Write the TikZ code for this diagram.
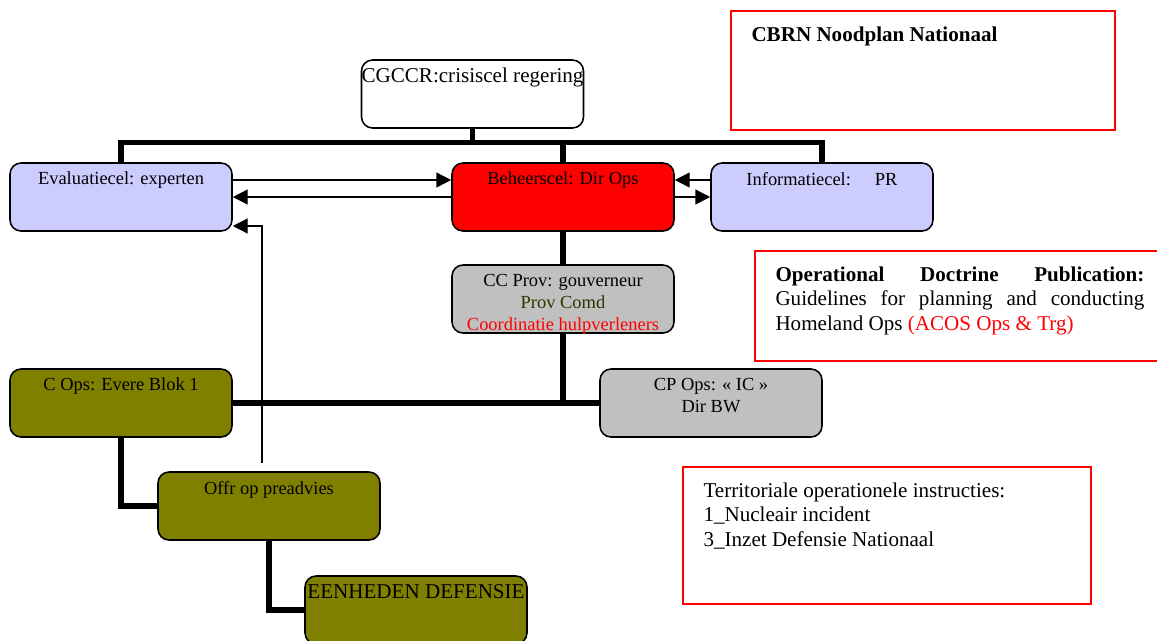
\documentclass[tikz,border=0pt]{standalone}
\usepackage{fontspec}
\setmainfont{Liberation Serif}
\usetikzlibrary{arrows.meta}

\definecolor{lavendel}{HTML}{CCCCFF}
\definecolor{olijf}{HTML}{808000}
\definecolor{grijs}{HTML}{C0C0C0}
\definecolor{donkerolijf}{HTML}{333300}

\tikzset{
  cel/.style={draw, line width=0.9pt, rounded corners=0.22cm,
    minimum width=4.44cm, minimum height=1.36cm, inner sep=0pt},
  kop/.style={label={[below, inner sep=0pt, yshift=-0.19cm, align=center,
    font=\fontsize{10.5}{12.5}\selectfont]north:{#1}}},
  grotekop/.style={label={[below, inner sep=0pt, yshift=-0.17cm, align=center,
    font=\fontsize{12}{14}\selectfont]north:{#1}}},
  nota/.style={draw=red, line width=1pt, inner sep=0pt},
  notatekst/.style={label={[below right, inner sep=0pt, xshift=0.42cm, yshift=-0.33cm,
    font=\fontsize{12}{13.8}\selectfont]north west:{#1}}},
  bus/.style={line width=3pt},
  link/.style={line width=0.8pt, -{Triangle[length=8.5pt,width=8.5pt]}},
}

\begin{document}
\begin{tikzpicture}[x=0.02cm, y=-0.02cm]
\useasboundingbox (0,0) rectangle (1157,640);

% cellen
\node[cel, grotekop={CGCCR:crisiscel regering}] (cgccr) at (472.5,94) {};
\node[cel, fill=lavendel, kop={Evaluatiecel: experten}] (eval) at (121,197) {};
\node[cel, fill=red, kop={Beheerscel: Dir Ops}] (beheer) at (563,197) {};
\node[cel, fill=lavendel, kop={Informatiecel:\hspace{1.3em}PR}] (info) at (822,197) {};
\node[cel, fill=grijs, kop={CC Prov: gouverneur\\\textcolor{donkerolijf}{Prov Comd}\\\textcolor{red}{Coordinatie hulpverleners}}] (ccprov) at (563,299) {};
\node[cel, fill=olijf, kop={C Ops: Evere Blok 1}] (cops) at (121,403) {};
\node[cel, fill=grijs, kop={CP Ops: « IC »\\Dir BW}] (cpops) at (711,403) {};
\node[cel, fill=olijf, kop={Offr op preadvies}] (offr) at (269,506) {};
\node[cel, fill=olijf, grotekop={EENHEDEN DEFENSIE}] (eenh) at (416,610) {};

% bronnen
\node[nota, minimum width=7.68cm, minimum height=2.38cm,
  notatekst={\textbf{CBRN Noodplan Nationaal}}] (cbrn) at (923,70.5) {};
\node[nota, minimum width=8.3cm, minimum height=2.2cm,
  notatekst={\parbox[t]{7.38cm}{\textbf{Operational Doctrine Publication:}\linebreak
    Guidelines for planning and conducting\linebreak
    Homeland Ops \textcolor{red}{(ACOS Ops \& Trg)}}}] (odp) at (962.5,306) {};
\node[nota, minimum width=8.16cm, minimum height=2.74cm,
  notatekst={\parbox[t]{7.5cm}{Territoriale operationele instructies:\\
    1\_Nucleair incident\\3\_Inzet Defensie Nationaal}}] (terr) at (887,535.5) {};

% hierarchie
\draw[bus] (cgccr.south) -- ++(0,15);
\draw[bus] (eval.north) -- ++(0,-20) -| (info.north);
\draw[bus] (beheer.north) -- ++(0,-20);
\draw[bus] (beheer.south) -- (ccprov.north);
\draw[bus] (ccprov.south) -- (ccprov.south |- cops.east);
\draw[bus] (cops.east) -- (cpops.west);
\draw[bus] (cops.south) |- (offr.west);
\draw[bus] (offr.south) |- (eenh.west);

% informatiestromen
\draw[link] ([yshift=0.34cm]eval.east) -- ([yshift=0.34cm]beheer.west);
\draw[link] (beheer.west) -- (eval.east);
\draw[link] ([yshift=0.34cm]info.west) -- ([yshift=0.34cm]beheer.east);
\draw[link] (beheer.east) -- (info.west);
\coordinate (advies) at (262,463);
\draw[link] (advies) |- ([yshift=-0.58cm]eval.east);
\end{tikzpicture}
\end{document}
